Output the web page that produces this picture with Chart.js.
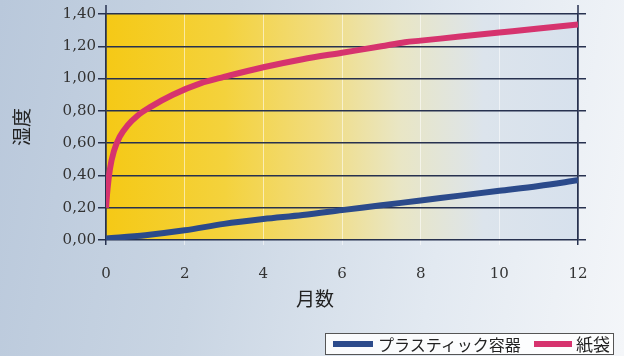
<!DOCTYPE html>
<html>
<head>
<meta charset="utf-8">
<script src="https://cdn.jsdelivr.net/npm/chart.js@4.4.1/dist/chart.umd.min.js"></script>
<style>
  html, body { margin: 0; padding: 0; }
  body {
    width: 624px; height: 356px; overflow: hidden; position: relative;
    background: linear-gradient(100deg, #b9c8db 0%, #c9d5e3 35%, #e2e9f1 70%, #f4f6f9 100%);
  }
  #wrap { position: absolute; left: 0; top: 0; width: 624px; height: 356px; }
  #xTitle {
    position: absolute; left: 296px; top: 284px;
    font: 19px "Noto Sans CJK JP", sans-serif; color: #222;
  }
  #legend {
    position: absolute; left: 325px; top: 333px; width: 289px; height: 22px;
    border: 1px solid #555; background: rgba(255,255,255,0.85);
    font: 16px "Noto Sans CJK JP", sans-serif; color: #222; line-height: 20px;
    white-space: nowrap; box-sizing: border-box;
  }
  #legend span { position: absolute; top: 0; }
  .sw { height: 6px; top: 7px !important; }
</style>
</head>
<body>
<div id="wrap"><canvas id="c" width="624" height="356"></canvas></div>
<div id="xTitle">月数</div>
<div id="legend">
  <span class="sw" style="left:7px;width:40px;background:#2b4a8b"></span>
  <span style="left:52px">プラスティック容器</span>
  <span class="sw" style="left:208px;width:38px;background:#d6336e"></span>
  <span style="left:250px;font-size:17px">紙袋</span>
</div>
<script>
// 月数 (x) と 湿度 (y)
const paperMonths  = [0, 0.04, 0.1, 0.2, 0.35, 0.55, 0.8, 1.1, 1.7, 2.4, 3, 4, 5, 6, 7, 7.6, 8, 9, 10, 11, 12];
const paperValues  = [0.2, 0.32, 0.44, 0.55, 0.64, 0.71, 0.77, 0.82, 0.9, 0.97, 1.01, 1.07, 1.12, 1.16, 1.2, 1.225, 1.235, 1.26, 1.285, 1.31, 1.335];
const plasticMonths = [0, 1, 2, 3, 4, 5, 6, 7, 8, 9, 10, 11, 12];
const plasticValues = [0.01, 0.03, 0.06, 0.1, 0.13, 0.155, 0.185, 0.215, 0.245, 0.275, 0.305, 0.335, 0.37];
const xTicks = [0, 2, 4, 6, 8, 10, 12];
const yTicks = [0, 0.2, 0.4, 0.6, 0.8, 1.0, 1.2, 1.4];
const seriesNames = ['プラスティック容器', '紙袋'];

const navy = '#27314f';

const bgPlugin = {
    id: 'bg',
    beforeDraw(chart) {
        const { ctx, chartArea: a } = chart;
        const g = ctx.createLinearGradient(a.left, 0, a.right, 0);
        g.addColorStop(0, '#f5c916');
        g.addColorStop(0.25, '#f4d23c');
        g.addColorStop(0.45, '#f1dc7e');
        g.addColorStop(0.62, '#e9e6c4');
        g.addColorStop(0.8, '#dce4ec');
        g.addColorStop(1, '#d7e1ed');
        ctx.save();
        ctx.fillStyle = g;
        ctx.fillRect(a.left, a.top, a.right - a.left, a.bottom - a.top);
        ctx.restore();
    },
    afterDraw(chart) {
        // 縦軸線の上への延長
        const { ctx, chartArea: a, scales } = chart;
        ctx.save();
        ctx.strokeStyle = navy;
        ctx.lineWidth = 1.5;
        [0, 12].forEach(v => {
            const px = scales.x.getPixelForValue(v);
            ctx.beginPath();
            ctx.moveTo(px, a.top - 9);
            ctx.lineTo(px, a.top);
            ctx.stroke();
        });
        ctx.restore();
    }
};

const fmt = v => v.toFixed(2).replace('.', ',');

new Chart(document.getElementById('c'), {
    type: 'line',
    data: {
        datasets: [
            {
                label: seriesNames[1],
                data: paperMonths.map((m, i) => ({ x: m, y: paperValues[i] })),
                borderColor: '#d6336e',
                borderWidth: 6,
                pointRadius: 0,
                cubicInterpolationMode: 'monotone',
                fill: false
            },
            {
                label: seriesNames[0],
                data: plasticMonths.map((m, i) => ({ x: m, y: plasticValues[i] })),
                borderColor: '#2b4a8b',
                borderWidth: 6,
                pointRadius: 0,
                cubicInterpolationMode: 'monotone',
                fill: false
            }
        ]
    },
    options: {
        responsive: false,
        animation: false,
        layout: { padding: { top: 14, right: 0, bottom: 0, left: 0 } },
        plugins: { legend: { display: false }, tooltip: { enabled: false } },
        scales: {
            x: {
                type: 'linear',
                min: 0, max: 12,
                afterBuildTicks: s => { s.ticks = xTicks.map(v => ({ value: v })); },
                afterFit: s => { s.height = 116; },
                grid: {
                    color: c => (c.tick && (c.tick.value === 0 || c.tick.value === 12)) ? navy : 'rgba(255,255,255,0.55)',
                    lineWidth: c => (c.tick && (c.tick.value === 0 || c.tick.value === 12)) ? 1.5 : 1,
                    tickLength: 5
                },
                border: { display: false },
                ticks: {
                    padding: 20,
                    color: '#333',
                    font: { family: 'DejaVu Serif', size: 15 },
                    maxRotation: 0
                }
            },
            y: {
                min: 0, max: 1.4,
                afterBuildTicks: s => { s.ticks = yTicks.map(v => ({ value: v })); },
                afterFit: s => { s.width = 106; },
                grid: { color: navy, lineWidth: 1.5, tickLength: 8 },
                border: { display: true, color: navy, width: 1.5 },
                ticks: {
                    padding: 2,
                    color: '#333',
                    font: { family: 'DejaVu Serif', size: 15 },
                    callback: v => fmt(v)
                },
                title: {
                    display: true,
                    text: '湿度',
                    color: '#222',
                    font: { family: 'Noto Sans CJK JP', size: 19 },
                    padding: { top: 10, bottom: 0 }
                }
            },
            y2: {
                position: 'right',
                min: 0, max: 1.4,
                afterBuildTicks: s => { s.ticks = yTicks.map(v => ({ value: v })); },
                afterFit: s => { s.width = 46; },
                grid: { drawOnChartArea: false, color: navy, lineWidth: 1.5, tickLength: 8 },
                border: { display: true, color: navy, width: 1.5 },
                ticks: { display: false }
            }
        }
    },
    plugins: [bgPlugin]
});
</script>
</body>
</html>
